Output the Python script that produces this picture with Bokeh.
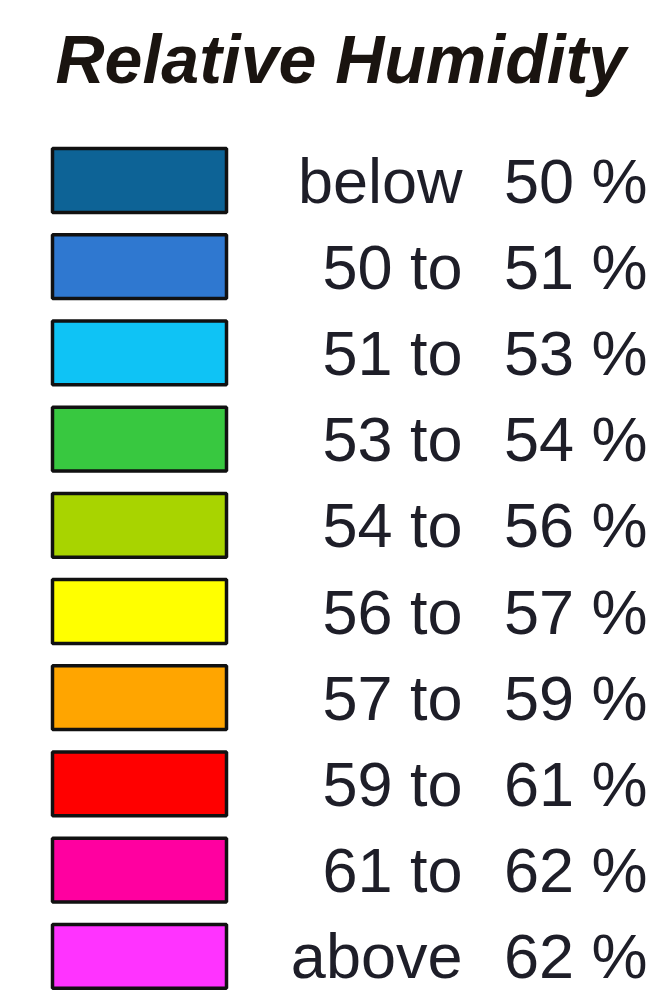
from bokeh.plotting import figure
from bokeh.models import Range1d, ColumnDataSource
from bokeh.core.properties import value
from bokeh.embed import file_html
from bokeh.resources import INLINE

title_text = "Relative Humidity"
range_start = ["below", "50 to", "51 to", "53 to", "54 to", "56 to", "57 to", "59 to", "61 to", "above"]
range_end = ["50 %", "51 %", "53 %", "54 %", "56 %", "57 %", "59 %", "61 %", "62 %", "62 %"]
colors = ["#0d6396", "#2f78d0", "#0fc3f5", "#38c840", "#a8d400",
          "#ffff00", "#ffa500", "#ff0000", "#ff00a0", "#ff33ff"]

n = len(colors)
rows = list(range(n))
src = ColumnDataSource(dict(
    row=rows,
    top=[r - 0.37 for r in rows],
    bottom=[r + 0.37 for r in rows],
    txt_y=[r + 0.0 for r in rows],
    start=range_start,
    end=range_end,
    color=colors,
))

W, H = 648, 990
step = 86.2
top_v = -180 / step
bot_v = top_v + H / step

p = figure(width=W, height=H, output_backend="svg", toolbar_location=None,
           x_range=Range1d(0, W), y_range=Range1d(bot_v, top_v),
           min_border=0)
p.axis.visible = False
p.grid.visible = False
p.outline_line_color = None
p.background_fill_color = "white"

p.quad(left=52, right=226, top="top", bottom="bottom", fill_color="color",
       line_color="#111111", line_width=3.5, source=src)

font = value("Liberation Sans")
p.text(x=462, y="txt_y", text="start", source=src, text_font=font,
       text_font_size="63px", text_align="right", text_baseline="alphabetic",
       text_color="#1e1e28")
p.text(x=647, y="txt_y", text="end", source=src, text_font=font,
       text_font_size="63px", text_align="right", text_baseline="alphabetic",
       text_color="#1e1e28")

p.text(x=[55], y=[top_v + (85 - 27) / step], text=[title_text],
       text_font=font, text_font_style="bold italic", text_font_size="68px",
       text_align="left", text_baseline="alphabetic", text_color="#1a1410")

open("out.html", "w").write(file_html(p, INLINE))
